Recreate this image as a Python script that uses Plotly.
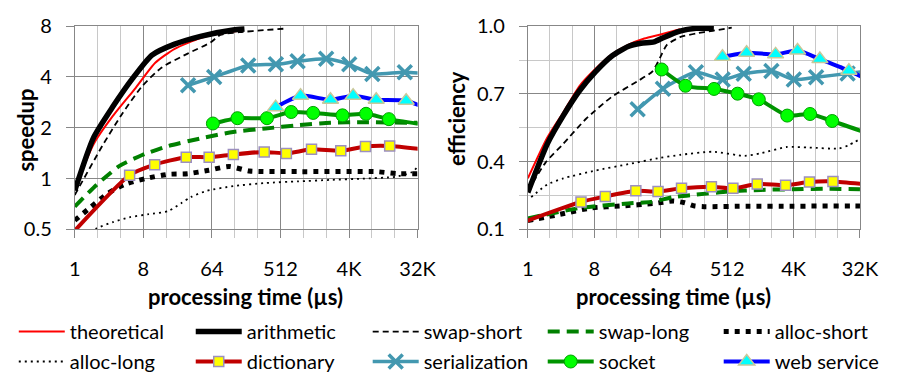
import plotly.graph_objects as go

# ---------------- data (processing time in µs) ----------------
theo_x = [1, 1.77, 3.18, 6.36, 11.5, 20.7, 45.3, 100, 148]
theo_speed = [0.87, 1.6, 2.35, 3.45, 4.85, 5.87, 6.8, 7.35, 7.5]
theo_ex = [1, 1.84, 3.03, 5.06, 8.4, 13.9, 23.1, 38.3, 63.6, 117]
theo_eff = [0.326, 0.507, 0.618, 0.736, 0.8125, 0.875, 0.917, 0.945, 0.963, 0.986]

arith_x = [1, 1.77, 3.18, 5.78, 10.4, 20.7, 45.3, 122, 172]
arith_speed = [0.85, 1.75, 2.67, 3.92, 5.39, 6.26, 6.96, 7.58, 7.68]
arith_ex = [1, 1.84, 3.03, 5.06, 8.4, 13.9, 23.1, 34.5, 52, 70.5, 117, 194, 338]
arith_eff = [0.264, 0.479, 0.604, 0.715, 0.80, 0.868, 0.91, 0.924, 0.93, 0.95, 0.978, 0.99, 0.99]

swaps_x = [1, 2.38, 4.29, 7.73, 14.0, 30.7, 61.4, 82.7, 148, 326, 588]
swaps_speed = [0.8, 1.6, 2.45, 3.53, 4.55, 5.5, 6.4, 7.1, 7.36, 7.58, 7.73]
swaps_ex = [1, 1.74, 3.03, 6.19, 13.9, 31.3, 49.5, 63.1, 77.7, 117, 194, 322, 592]
swaps_eff = [0.27, 0.396, 0.479, 0.59, 0.6875, 0.757, 0.80, 0.862, 0.917, 0.951, 0.968, 0.979, 0.993]

swapl_x = [1, 1.95, 3.89, 7.73, 17, 45.3, 122, 326, 873, 2336, 6208, 32768]
swapl_speed = [0.684, 0.92, 1.19, 1.38, 1.56, 1.73, 1.89, 1.98, 2.07, 2.14, 2.16, 2.14]
swapl_ex = [1, 5.06, 23.1, 46.9, 95.7, 194, 534, 1478, 4067, 11190, 32768]
swapl_eff = [0.149, 0.195, 0.215, 0.222, 0.243, 0.254, 0.268, 0.275, 0.278, 0.28, 0.278]

allocs_x = [1, 1.64, 2.75, 4.72, 8.51, 17, 30.7, 58.1, 108, 199, 873, 9280, 17560, 32768]
allocs_speed = [0.566, 0.68, 0.82, 0.93, 1.0, 1.06, 1.07, 1.12, 1.18, 1.11, 1.10, 1.10, 1.07, 1.07]
allocs_ex = [1, 2.75, 7.21, 18.9, 52, 95.7, 136, 185, 249, 1024, 4096, 24830, 32768]
allocs_eff = [0.139, 0.167, 0.195, 0.204, 0.215, 0.226, 0.218, 0.204, 0.201, 0.203, 0.203, 0.204, 0.204]

allocl_x = [1, 1.53, 1.95, 3.18, 5.24, 9.45, 17, 25.3, 33.8, 55.3, 122, 326, 873, 2336, 6208, 16730, 27350, 32768]
allocl_speed = [0.425, 0.476, 0.508, 0.553, 0.59, 0.616, 0.642, 0.715, 0.778, 0.847, 0.903, 0.942, 0.963, 0.983, 1.0, 1.026, 1.09, 1.17]
allocl_ex = [1.11, 1.84, 3.03, 8.4, 23.1, 63.6, 117, 322, 885, 1478, 3303, 6746, 16840, 22690, 32768]
allocl_eff = [0.243, 0.299, 0.326, 0.361, 0.389, 0.417, 0.43, 0.444, 0.426, 0.4375, 0.465, 0.4625, 0.458, 0.472, 0.5]

dict_x = [0.707, 5.28, 11.3, 29.4, 58.9, 122.8, 313, 613, 1314, 3191, 6746, 14060, 65536]
dict_speed = [0.415, 1.048, 1.21, 1.34, 1.34, 1.39, 1.44, 1.41, 1.49, 1.46, 1.55, 1.56, 1.45]
dict_eff = [0.122, 0.222, 0.246, 0.271, 0.268, 0.282, 0.289, 0.282, 0.301, 0.296, 0.31, 0.3125, 0.292]

ser_x = [31.1, 68.6, 192.7, 445.7, 861, 2048, 4125, 8305, 22220, 65536]
ser_speed = [3.57, 4.0, 4.68, 4.75, 4.95, 5.12, 4.75, 4.17, 4.27, 4.1]
ser_eff = [0.632, 0.723, 0.796, 0.764, 0.789, 0.801, 0.764, 0.774, 0.79, 0.81]

sock_x = [66, 139, 340, 710, 1380, 3360, 6870, 13730, 65536]
sock_speed = [2.12, 2.28, 2.28, 2.48, 2.45, 2.37, 2.42, 2.25, 2.02]
sock_eff = [0.808, 0.736, 0.722, 0.701, 0.676, 0.604, 0.611, 0.58, 0.503]

web_x = [442.6, 942, 2336, 4640, 9345, 23170, 65536]
web_speed = [2.65, 3.10, 2.93, 3.10, 2.93, 2.89, 2.39]
web_eff = [0.864, 0.882, 0.875, 0.892, 0.854, 0.803, 0.728]

x_ticks = [1, 8, 64, 512, 4096, 32768]
x_ticktext = ["1", "8", "64", "512", "4K", "32K"]
x_minor = [2 ** k for k in range(16)]
speed_ticks = [0.5, 1, 2, 4, 8]
speed_ticktext = ["0.5", "1", "2", "4", "8"]
eff_ticks = [0.1, 0.4, 0.7, 1.0]
eff_ticktext = ["0.1", "0.4", "0.7", "1.0"]
eff_minor = [0.25, 0.55, 0.85]

FONT = "Lato"
MAJ = "#878787"
MIN = "#c8c8c8"

fig = go.Figure()

styles = [
    ("theoretical", dict(color="#ff0000", width=2), None),
    ("arithmetic", dict(color="#000000", width=5.5), None),
    ("swap-short", dict(color="#000000", width=1.8, dash="6px,4px"), None),
    ("swap-long", dict(color="#008000", width=4, dash="12px,7px"), None),
    ("alloc-short", dict(color="#000000", width=5, dash="5px,6px"), None),
    ("alloc-long", dict(color="#000000", width=1.8, dash="2px,4px"), None),
    ("dictionary", dict(color="#c00000", width=4),
     dict(symbol="square", size=10, color="#ffff00", line=dict(color="#9c8fc0", width=1.5))),
    ("serialization", dict(color="#4398b0", width=3.5),
     dict(symbol="x-thin", size=14, color="#4398b0", line=dict(color="#4398b0", width=3.5))),
    ("socket", dict(color="#009400", width=4),
     dict(symbol="circle", size=13, color="#00ff00", line=dict(color="#00a000", width=1))),
    ("web service", dict(color="#0000ff", width=4),
     dict(symbol="triangle-up", size=14, color="#00ffff", line=dict(color="#c8c89a", width=1.5))),
]

left_data = {
    "theoretical": (theo_x, theo_speed),
    "arithmetic": (arith_x, arith_speed),
    "swap-short": (swaps_x, swaps_speed),
    "swap-long": (swapl_x, swapl_speed),
    "alloc-short": (allocs_x, allocs_speed),
    "alloc-long": (allocl_x, allocl_speed),
    "dictionary": (dict_x, dict_speed),
    "serialization": (ser_x, ser_speed),
    "socket": (sock_x, sock_speed),
    "web service": (web_x, web_speed),
}
right_data = {
    "theoretical": (theo_ex, theo_eff),
    "arithmetic": (arith_ex, arith_eff),
    "swap-short": (swaps_ex, swaps_eff),
    "swap-long": (swapl_ex, swapl_eff),
    "alloc-short": (allocs_ex, allocs_eff),
    "alloc-long": (allocl_ex, allocl_eff),
    "dictionary": (dict_x, dict_eff),
    "serialization": (ser_x, ser_eff),
    "socket": (sock_x, sock_eff),
    "web service": (web_x, web_eff),
}

W, H = 903, 381
legend_order = [s[0] for s in styles]
style_map = {s[0]: s for s in styles}
# one legend box per entry: 5 columns x 2 rows
col_px = [8, 190, 372, 552, 733]
row_px = [340, 372]
legend_ids = {}
legend_layout = {}
for i, name in enumerate(legend_order):
    lid = "legend" if i == 0 else "legend%d" % (i + 1)
    legend_ids[name] = lid
    legend_layout[lid] = dict(orientation="h", x=col_px[i % 5] / W, xanchor="left",
                              y=1 - row_px[i // 5] / H, yanchor="middle", itemwidth=46,
                              font=dict(family=FONT, size=20), bgcolor="rgba(0,0,0,0)")

# draw order: background lines first, marked series on top
order = ["alloc-long", "alloc-short", "swap-long", "dictionary", "swap-short",
         "theoretical", "arithmetic", "serialization", "socket", "web service"]

for name in order:
    _, line, marker = style_map[name]
    mode = "lines+markers" if marker else "lines"
    lx, ly = left_data[name]
    rx, ry = right_data[name]
    fig.add_trace(go.Scatter(x=lx, y=ly, name=name, mode=mode, line=dict(line, shape="spline", smoothing=0.6),
                             marker=marker, legend=legend_ids[name], xaxis="x", yaxis="y"))
    fig.add_trace(go.Scatter(x=rx, y=ry, name=name, mode=mode, line=dict(line, shape="spline", smoothing=0.6),
                             marker=marker, showlegend=False, xaxis="x2", yaxis="y2"))

L_x0, L_x1 = 70.7, 423.3
R_x0, R_x1 = 536.7, 878.3
Y_top, Y_bot = 14, 231

tickfont = dict(family=FONT, size=20, color="#000")

def xaxis_cfg(x0, x1, anchor):
    return dict(domain=[x0 / W, x1 / W], anchor=anchor, type="log",
                range=[0, 4.5154499], tickmode="array", tickvals=x_ticks, ticktext=x_ticktext,
                showgrid=True, gridcolor=MAJ, gridwidth=1, ticks="outside", ticklen=8, tickcolor=MAJ,
                showline=True, linecolor=MAJ, mirror=True, tickfont=tickfont, ticklabelstandoff=14,
                minor=dict(tickmode="array", tickvals=x_minor, showgrid=True, gridcolor=MIN,
                           ticks="outside", ticklen=8, tickcolor=MIN),
                zeroline=False, fixedrange=True)

ydom = [1 - Y_bot / H, 1 - Y_top / H]

fig.update_layout(
    width=W, height=H, margin=dict(l=0, r=0, t=0, b=0),
    paper_bgcolor="white", plot_bgcolor="white",
    font=dict(family=FONT, size=20, color="#000"),
    xaxis=xaxis_cfg(L_x0, L_x1, "y"),
    xaxis2=xaxis_cfg(R_x0, R_x1, "y2"),
    yaxis=dict(domain=ydom, anchor="x", type="log", range=[-0.30103, 0.90309],
               tickmode="array", tickvals=speed_ticks, ticktext=speed_ticktext,
               showgrid=True, gridcolor=MAJ, ticks="outside", ticklen=8, tickcolor=MAJ,
               showline=True, linecolor=MAJ, mirror=True, tickfont=tickfont, ticklabelstandoff=10,
               zeroline=False),
    yaxis2=dict(domain=ydom, anchor="x2", range=[0.1, 1.0],
                tickmode="array", tickvals=eff_ticks, ticktext=eff_ticktext,
                showgrid=True, gridcolor=MAJ, ticks="outside", ticklen=8, tickcolor=MAJ,
                showline=True, linecolor=MAJ, mirror=True, tickfont=tickfont, ticklabelstandoff=10,
                minor=dict(tickmode="array", tickvals=eff_minor, showgrid=True, gridcolor=MIN,
                           ticks="outside", ticklen=8, tickcolor=MIN),
                zeroline=False),
    showlegend=True,
    **legend_layout,
)

title_font = dict(family=FONT, size=22, color="#000", weight="bold")
fig.add_annotation(text="speedup", x=20 / W, y=1 - 125 / H, xref="paper", yref="paper",
                   textangle=-90, showarrow=False, font=title_font, xanchor="center", yanchor="middle")
fig.add_annotation(text="efficiency", x=464 / W, y=1 - 113 / H, xref="paper", yref="paper",
                   textangle=-90, showarrow=False, font=title_font, xanchor="center", yanchor="middle")
fig.add_annotation(text="processing time (µs)", x=246 / W, y=1 - 303 / H, xref="paper", yref="paper",
                   showarrow=False, font=title_font, xanchor="center", yanchor="middle")
fig.add_annotation(text="processing time (µs)", x=686 / W, y=1 - 303 / H, xref="paper", yref="paper",
                   showarrow=False, font=title_font, xanchor="center", yanchor="middle")

fig.write_html("out.html")
